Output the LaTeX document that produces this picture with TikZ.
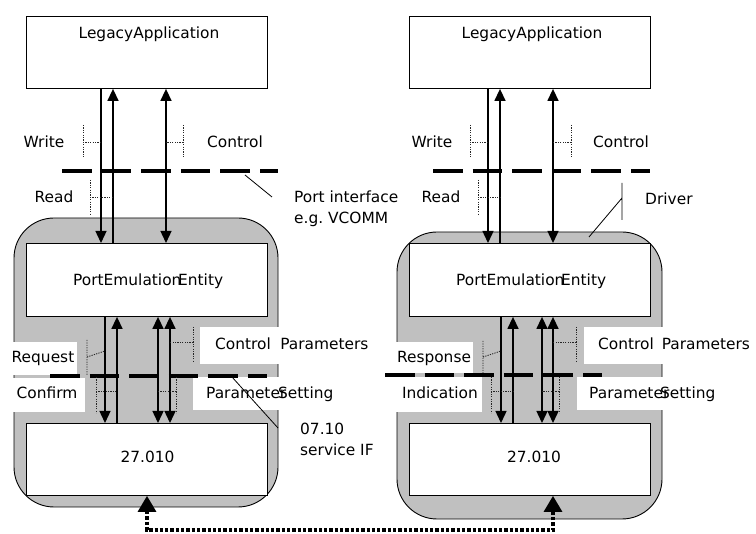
\documentclass[tikz,border=0pt]{standalone}
\usepackage{fontspec}
\setmainfont{DejaVu Sans}
\usetikzlibrary{arrows.meta}
\definecolor{panelgray}{HTML}{C0C0C0}
\begin{document}
\begin{tikzpicture}[x=1pt,y=-1pt,
  box/.style={draw=black, line width=0.9pt, fill=white, inner sep=0pt, anchor=north west},
  txt/.style={inner sep=0pt, anchor=base, font=\fontsize{15.4}{18}\selectfont},
  ltxt/.style={txt, anchor=base west},
  flow/.style={line width=1.4pt, -{Triangle[length=12pt,width=11pt]}},
  both/.style={line width=1.4pt, {Triangle[length=12pt,width=11pt]}-{Triangle[length=12pt,width=11pt]}},
  sep/.style={line width=4pt, dash pattern=on 29.5pt off 10.1pt},
  callout/.style={line width=0.8pt, dash pattern=on 1.2pt off 1.2pt, black!85},
  pointer/.style={line width=0.8pt},
  panel/.style={fill=panelgray, draw=black, line width=0.9pt, rounded corners=40pt},
  blank/.style={fill=white, draw=none},
  link/.style={line width=3.3pt, dash pattern=on 3.3pt off 2pt,
    {Triangle[length=16pt,width=18pt]}-{Triangle[length=16pt,width=18pt]}}
]
\useasboundingbox (0,0) rectangle (756,534);

% ---------- panels ----------
\draw[panel] (14,218) rectangle (278,507);
\draw[panel] (397,232) rectangle (662,519);

% white label patches
\fill[blank] (10,342) rectangle (77,375);
\fill[blank] (10,378) rectangle (85,412);
\fill[blank] (200,327) rectangle (290,364);
\fill[blank] (193,377) rectangle (290,410);
\fill[blank] (393,342) rectangle (473,373);
\fill[blank] (393,377) rectangle (482,412);
\fill[blank] (584,327) rectangle (670,364);
\fill[blank] (577,377) rectangle (670,410);

% ---------- boxes ----------
\node[box, minimum width=241pt, minimum height=72pt] (la1) at (26,16) {};
\node[box, minimum width=241pt, minimum height=73pt] (pe1) at (26,243) {};
\node[box, minimum width=241pt, minimum height=72pt] (s1) at (26,423) {};
\node[box, minimum width=241pt, minimum height=72pt] (la2) at (409,16) {};
\node[box, minimum width=241pt, minimum height=73pt] (pe2) at (409,243) {};
\node[box, minimum width=241pt, minimum height=72pt] (s2) at (409,423) {};

\node[txt] (la1t) at (149,39) {LegacyApplication};
\node[txt] (la2t) at (532,39) {LegacyApplication};
\node[ltxt] (pe1a) at (73,285.5) {PortEmulation};
\node[ltxt] (pe1b) at (178,285.5) {Entity};
\node[ltxt] (pe2a) at (456,285.5) {PortEmulation};
\node[ltxt] (pe2b) at (561,285.5) {Entity};
\node[txt] (s1t) at (147.5,463) {27.010};
\node[txt] (s2t) at (534,463) {27.010};

% ---------- separators ----------
\draw[sep] (62,171) -- (278,171);
\draw[sep] (433,171) -- (650,171);
\draw[sep] (50,376) -- (267,376);
\draw[sep] (385,375) -- (602,375);

% ---------- top arrows ----------
\draw[flow] (la1.south -| 101,0) -- (pe1.north -| 101,0);
\draw[flow] (pe1.north -| 113,0) -- (la1.south -| 113,0);
\draw[both] (la1.south -| 166,0) -- (pe1.north -| 166,0);
\draw[flow] (la2.south -| 488,0) -- (pe2.north -| 488,0);
\draw[flow] (pe2.north -| 500,0) -- (la2.south -| 500,0);
\draw[both] (la2.south -| 553,0) -- (pe2.north -| 553,0);

% ---------- lower arrows ----------
\draw[flow] (pe1.south -| 105,0) -- (s1.north -| 105,0);
\draw[flow] (s1.north -| 117,0) -- (pe1.south -| 117,0);
\draw[both] (pe1.south -| 158,0) -- (s1.north -| 158,0);
\draw[both] (pe1.south -| 170,0) -- (s1.north -| 170,0);
\draw[flow] (pe2.south -| 501,0) -- (s2.north -| 501,0);
\draw[flow] (s2.north -| 513,0) -- (pe2.south -| 513,0);
\draw[both] (pe2.south -| 542,0) -- (s2.north -| 542,0);
\draw[both] (pe2.south -| 553,0) -- (s2.north -| 553,0);

% ---------- callouts ----------
\draw[callout] (83,125) -- (83,158) (83,142) -- (101,142);
\draw[callout] (183,125) -- (183,158) (183,142) -- (166,142);
\draw[callout] (90,180) -- (90,215) (90,197) -- (113,197);
\draw[callout] (470,125) -- (470,158) (470,142) -- (488,142);
\draw[callout] (571,125) -- (571,158) (571,142) -- (553,142);
\draw[callout] (478,180) -- (478,215) (478,197) -- (500,197);

\draw[callout] (87,340) -- (87,375) (87,357) -- (105,351);
\draw[callout] (96,377) -- (96,413) (96,391) -- (117,391);
\draw[callout] (193,327) -- (193,362) (193,342) -- (170,342);
\draw[callout] (176,377) -- (176,413) (176,391) -- (158,391);
\draw[callout] (483,341) -- (483,373) (483,357) -- (501,351);
\draw[callout] (491,377) -- (491,413) (491,391) -- (513,391);
\draw[callout] (576,327) -- (576,362) (576,342) -- (553,342);
\draw[callout] (559,377) -- (559,413) (559,391) -- (542,391);

% ---------- labels ----------
\node[txt] (w1) at (44,147.5) {Write};
\node[txt] (c1) at (235,147.5) {Control};
\node[txt] (r1) at (54,202.5) {Read};
\node[txt] (w2) at (432,147.5) {Write};
\node[txt] (c2) at (621,147.5) {Control};
\node[txt] (r2) at (441,203) {Read};
\node[ltxt] (pi1) at (294,203) {Port interface};
\node[ltxt] (pi2) at (294,224) {e.g.\ VCOMM};
\node[ltxt] (drv) at (645,205) {Driver};

\node[txt] (rq) at (43,363) {Request};
\node[txt] (cf) at (47,399) {Confirm};
\node[ltxt] (cp1) at (215,350) {Control\hspace{9.5pt}Parameters};
\node[ltxt] (ps1a) at (206,399) {Parameter};
\node[ltxt] (ps1b) at (278,399) {Setting};
\node[ltxt] (sv1) at (300,435) {07.10};
\node[ltxt] (sv2) at (300,456) {service IF};

\node[txt] (rs) at (434,363) {Response};
\node[txt] (ind) at (440,399) {Indication};
\node[ltxt] (cp2) at (598,350) {Control\hspace{8pt}Parameters};
\node[ltxt] (ps2a) at (589,399) {Parameter};
\node[ltxt] (ps2b) at (660,399) {Setting};

% ---------- pointers ----------
\draw[pointer] (245,175) -- (272,197);
\draw[pointer] (622,183) -- (622,220) (622,198) -- (589,237);
\draw[pointer] (232,377) -- (278,428);

% ---------- link ----------
\coordinate (lk1) at (147,530);
\coordinate (lk2) at (553,530);
\draw[link] (s1.south -| 147,0) -- (lk1) -- (lk2) -- (s2.south -| 553,0);
\end{tikzpicture}
\end{document}
